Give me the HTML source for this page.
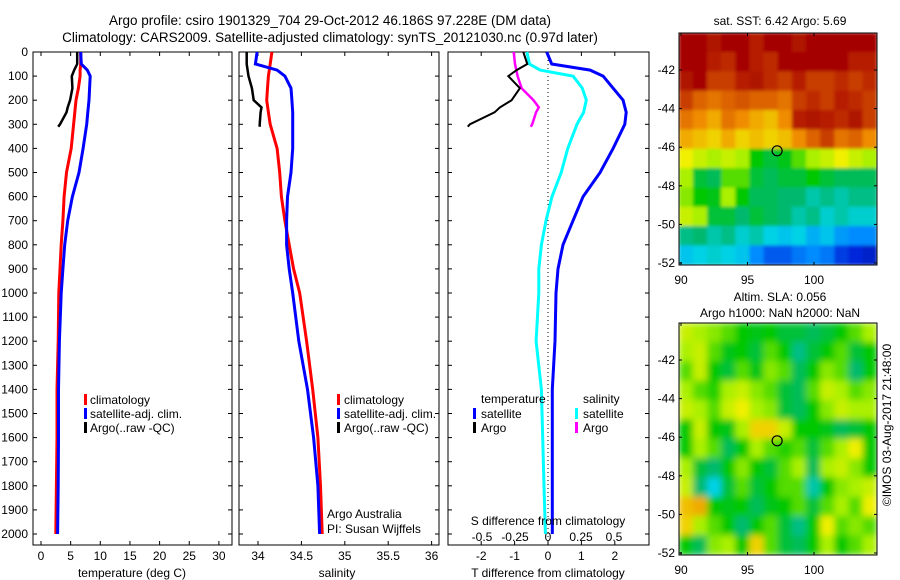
<!DOCTYPE html>
<html><head><meta charset="utf-8"><style>
body{margin:0;background:#fff;}
svg{display:block;font-family:"Liberation Sans",sans-serif;}
text{fill:#000;}
</style></head><body>
<svg id="c" width="900" height="580" viewBox="0 0 900 580">
<text x="330" y="25" font-size="13.5" text-anchor="middle">Argo profile: csiro 1901329_704 29-Oct-2012 46.186S 97.228E (DM data)</text>
<text x="330" y="42" font-size="13.5" text-anchor="middle">Climatology: CARS2009. Satellite-adjusted climatology: synTS_20121030.nc (0.97d later)</text>
</svg>
<script>
// ---- data ----
const depths=[0,50,75,100,150,200,250,300,400,500,600,700,800,900,1000,1200,1400,1600,1800,2000];
const tempClim=[6.7,6.7,6.6,6.6,6.3,5.9,5.7,5.5,5.1,4.3,3.9,3.7,3.4,3.2,3.0,2.9,2.7,2.7,2.6,2.5];
const tempSat=[6.7,6.8,7.8,8.3,8.2,8.1,7.9,7.7,7.1,6.4,5.3,4.5,4.0,3.7,3.4,3.1,2.95,2.95,2.9,2.8];
const argoDepths=[0,50,75,100,150,200,230,250,300,310];
const tempArgo=[6.1,6.1,5.6,5.2,5.3,4.9,4.5,4.3,3.2,2.9];
const salClim=[34.16,34.14,34.13,34.12,34.11,34.10,34.12,34.14,34.22,34.25,34.27,34.31,34.36,34.41,34.48,34.56,34.63,34.69,34.72,34.74];
const salSat=[33.99,33.97,34.22,34.31,34.38,34.39,34.40,34.40,34.40,34.38,34.34,34.33,34.33,34.36,34.40,34.47,34.57,34.64,34.69,34.71];
const salArgo=[33.87,33.87,33.88,33.89,33.93,33.95,34.04,34.03,34.02,34.02];
const tDiffSat=[-0.04,0.11,1.26,1.65,1.95,2.25,2.34,2.3,1.95,1.56,1.05,0.75,0.45,0.3,0.24,0.21,0.13,0.13,0.13,0.13];
const sDiffSat=[-0.16,-0.14,-0.06,0.19,0.26,0.29,0.27,0.22,0.15,0.10,0.03,-0.015,-0.05,-0.07,-0.07,-0.09,-0.05,-0.04,-0.03,-0.02];
const tDiffArgo=[-0.74,-0.62,-0.94,-1.19,-0.84,-1.09,-1.44,-1.6,-2.34,-2.4];
const sDiffArgo=[-0.26,-0.25,-0.24,-0.23,-0.2,-0.11,-0.07,-0.09,-0.12,-0.13];
const depthTicks=[0,100,200,300,400,500,600,700,800,900,1000,1100,1200,1300,1400,1500,1600,1700,1800,1900,2000];
const tempTicks=[0,5,10,15,20,25,30];
const salTicks=[34,34.5,35,35.5,36];
const tdTicks=[-2,-1,0,1,2];
const sdTicks=[-0.5,-0.25,0,0.25,0.5];
const sdTickLabels=["-0.5","-0.25","0","0.25","0.5"];
const latTicks=[-42,-44,-46,-48,-50,-52];
const lonTicks=[90,95,100];
const argoLon=97.228, argoLat=-46.186;
const sstGrid=[
[.95,.95,.92,.95,.95,.9,.95,.95,.92,.95,.95,.95,.95,.95],
[.95,.95,.9,.88,.95,.9,.88,.95,.95,.95,.95,.95,.9,.9],
[.92,.95,.85,.85,.9,.92,.88,.85,.9,.85,.85,.88,.85,.88],
[.85,.8,.78,.8,.82,.8,.8,.78,.85,.88,.85,.9,.88,.85],
[.78,.75,.72,.78,.75,.72,.7,.75,.9,.92,.9,.88,.92,.85],
[.72,.7,.68,.72,.68,.7,.68,.7,.75,.8,.85,.78,.8,.75],
[.65,.62,.6,.62,.6,.5,.45,.48,.55,.6,.62,.65,.62,.6],
[.6,.45,.42,.55,.55,.45,.42,.45,.45,.5,.45,.42,.42,.42],
[.58,.5,.48,.6,.5,.42,.42,.4,.4,.35,.38,.35,.38,.38],
[.62,.6,.45,.45,.4,.45,.42,.4,.35,.38,.32,.35,.32,.32],
[.38,.4,.35,.38,.32,.35,.3,.28,.3,.25,.28,.22,.2,.2],
[.28,.3,.32,.3,.28,.2,.15,.15,.18,.2,.18,.12,.1,.08]];
const slaGrid=[
[.62,.6,.58,.55,.5,.48,.5,.45,.45,.42,.45,.5,.55,.6],
[.6,.62,.55,.48,.5,.45,.55,.5,.38,.45,.5,.55,.45,.5],
[.55,.62,.5,.45,.55,.48,.58,.55,.42,.5,.58,.55,.4,.5],
[.6,.55,.52,.6,.62,.58,.55,.45,.42,.55,.62,.6,.55,.58],
[.62,.6,.55,.62,.65,.6,.58,.45,.42,.5,.58,.62,.6,.6],
[.5,.62,.5,.48,.6,.68,.68,.62,.5,.5,.48,.42,.45,.5],
[.5,.6,.55,.42,.5,.6,.55,.52,.55,.45,.55,.6,.65,.5],
[.6,.45,.4,.5,.58,.5,.45,.55,.6,.42,.6,.62,.58,.5],
[.62,.4,.3,.45,.55,.45,.5,.55,.55,.35,.5,.58,.6,.62],
[.7,.72,.5,.48,.5,.42,.48,.5,.55,.45,.55,.6,.55,.65],
[.68,.6,.55,.5,.4,.5,.55,.45,.38,.5,.65,.55,.58,.55],
[.5,.42,.58,.6,.5,.68,.55,.45,.42,.5,.6,.5,.55,.6]];

// ---- helpers ----
const svg=document.getElementById('c');
const NS='http://www.w3.org/2000/svg';
function mk(tag,attrs,parent){const e=document.createElementNS(NS,tag);for(const k in attrs)e.setAttribute(k,attrs[k]);(parent||svg).appendChild(e);return e;}
const TOP=52,BOT=545;
const yD=d=>52+d*0.241;
const xT=t=>41+t*5.93;
const xS=s=>258+(s-34)*86.8;
const xTD=v=>548+v*33.4;
const xSD=v=>548+v*132;
function panel(x0,x1,name){
  const r=mk('rect',{x:x0,y:TOP,width:x1-x0,height:BOT-TOP,fill:'none',stroke:'#000','stroke-width':1});
  
  
  depthTicks.forEach(d=>{mk('line',{x1:x0,x2:x0+4,y1:yD(d),y2:yD(d),stroke:'#000'});mk('line',{x1:x1,x2:x1-4,y1:yD(d),y2:yD(d),stroke:'#000'});});
}
function xticks(vals,fx,labels,y,name){
  vals.forEach((v,i)=>{const x=fx(v);mk('line',{x1:x,x2:x,y1:TOP,y2:TOP+4,stroke:'#000'});mk('line',{x1:x,x2:x,y1:BOT,y2:BOT-4,stroke:'#000'});
    const t=mk('text',{x:x,y:y,'font-size':12,'text-anchor':'middle'});t.textContent=labels[i];
    
    });
}
function line(xs,ds,fx,color,name,w){
  const pts=xs.map((v,i)=>fx(v).toFixed(1)+','+yD(ds[i]).toFixed(1)).join(' ');
  const p=mk('polyline',{points:pts,fill:'none',stroke:color,'stroke-width':w||3});
  
  
}
function txt(x,y,s,name,size,anchor){const t=mk('text',{x:x,y:y,'font-size':size||12,'text-anchor':anchor||'start'});t.textContent=s;
  
  return t;}
function legBar(x,y,color,name){const r=mk('rect',{x:x,y:y-10,width:3,height:11,fill:color});
  
  }

// depth labels
depthTicks.forEach(d=>{const t=mk('text',{x:28,y:yD(d)+4,'font-size':12,'text-anchor':'end'});t.textContent=d;
  
  });

// panel 1 temperature
panel(33,232,'temperature-panel');
xticks(tempTicks,xT,tempTicks.map(String),560,'temperature-tick-label');
line(tempClim,depths,xT,'#f00','temperature-climatology-line');
line(tempSat,depths,xT,'#00f','temperature-satellite-line');
line(tempArgo,argoDepths,xT,'#000','temperature-argo-line',2.5);
txt(132,577,'temperature (deg C)','temperature-axis-title',12,'middle');
legBar(84,404,'#f00','legend-climatology-swatch');txt(90,404,'climatology','legend-climatology');
legBar(84,418,'#00f','legend-satellite-swatch');txt(90,418,'satellite-adj. clim.','legend-satellite');
legBar(84,432,'#000','legend-argo-swatch');txt(90,432,'Argo(..raw -QC)','legend-argo');

// panel 2 salinity
panel(239,439,'salinity-panel');
xticks(salTicks,xS,salTicks.map(String),560,'salinity-tick-label');
line(salClim,depths,xS,'#f00','salinity-climatology-line');
line(salSat,depths,xS,'#00f','salinity-satellite-line');
line(salArgo,argoDepths,xS,'#000','salinity-argo-line',2.5);
txt(337,577,'salinity','salinity-axis-title',12,'middle');
legBar(337,404,'#f00','legend2-climatology-swatch');txt(344,404,'climatology','legend2-climatology');
legBar(337,418,'#00f','legend2-satellite-swatch');txt(344,418,'satellite-adj. clim.','legend2-satellite');
legBar(337,432,'#000','legend2-argo-swatch');txt(344,432,'Argo(..raw -QC)','legend2-argo');
txt(327,518,'Argo Australia','credit-argo-australia');
txt(327,533,'PI: Susan Wijffels','credit-pi');

// panel 3 differences
panel(448,649,'difference-panel');
xticks(tdTicks,xTD,tdTicks.map(String),560,'t-diff-tick-label');
sdTicks.forEach((v,i)=>{const t=mk('text',{x:xSD(v),y:541,'font-size':12,'text-anchor':'middle'});t.textContent=sdTickLabels[i];
  
  });
mk('line',{x1:548,x2:548,y1:TOP,y2:BOT,stroke:'#000','stroke-dasharray':'1,3'});
line(sDiffSat,depths,xSD,'#0ff','s-diff-satellite-line');
line(tDiffSat,depths,xTD,'#00f','t-diff-satellite-line');
line(sDiffArgo,argoDepths,xSD,'#f0f','s-diff-argo-line',2.5);
line(tDiffArgo,argoDepths,xTD,'#000','t-diff-argo-line',2);
txt(548,525,'S difference from climatology','s-diff-axis-title',12,'middle');
txt(548,577,'T difference from climatology','t-diff-axis-title',12,'middle');
txt(481,403,'temperature','legend3-temperature-header');
txt(583,403,'salinity','legend3-salinity-header');
legBar(473,418,'#00f','legend3-temp-satellite-swatch');txt(481,418,'satellite','legend3-temp-satellite');
legBar(473,432,'#000','legend3-temp-argo-swatch');txt(481,432,'Argo','legend3-temp-argo');
legBar(575,418,'#0ff','legend3-sal-satellite-swatch');txt(583,418,'satellite','legend3-sal-satellite');
legBar(575,432,'#f0f','legend3-sal-argo-swatch');txt(583,432,'Argo','legend3-sal-argo');

// maps
const cmapStops=[[0,0,0,130],[.1,0,40,220],[.2,0,140,255],[.3,0,210,230],[.4,0,185,110],[.5,0,200,0],[.6,170,240,0],[.65,240,240,0],[.75,240,140,0],[.85,200,60,0],[.95,165,0,0],[1,150,0,0]];
function cmap(v){
  for(let i=1;i<cmapStops.length;i++){const a=cmapStops[i-1],b=cmapStops[i];
    if(v<=b[0]){const f=(v-a[0])/(b[0]-a[0]);return `rgb(${Math.round(a[1]+f*(b[1]-a[1]))},${Math.round(a[2]+f*(b[2]-a[2]))},${Math.round(a[3]+f*(b[3]-a[3]))})`;}}
  return 'rgb(150,0,0)';
}
const MX0=679,MX1=877;
const lonX=l=>681+(l-90)*13.3;
mk('defs',{}).innerHTML='<filter id="bl" x="0" y="0" width="1" height="1"><feGaussianBlur stdDeviation="3.5" edgeMode="duplicate"/></filter><filter id="bl2" x="0" y="0" width="1" height="1"><feGaussianBlur stdDeviation="1.5" edgeMode="duplicate"/></filter><clipPath id="cp1"><rect x="679" y="33" width="198" height="232"/></clipPath><clipPath id="cp2"><rect x="679" y="323" width="198" height="232"/></clipPath>';
function map(grid,y0,y1,name,filt,clip){
  const latY=l=>y0+37+(-42-l)*19.3*(y1-y0)/232;
  const g=mk('g',{'clip-path':`url(#${clip})`});
  const gi=mk('g',{filter:`url(#${filt})`},g);
  
  
  const cw=(MX1-MX0)/grid[0].length,ch=(y1-y0)/grid.length;
  grid.forEach((row,r)=>row.forEach((v,c)=>{mk('rect',{x:MX0+c*cw-0.3,y:y0+r*ch-0.3,width:cw+0.6,height:ch+0.6,fill:cmap(v)},gi);}));
  const fr=mk('rect',{x:MX0,y:y0,width:MX1-MX0,height:y1-y0,fill:'none',stroke:'#000'});
  
  
  latTicks.forEach(l=>{const y=latY(l);mk('line',{x1:MX0,x2:MX0+3,y1:y,y2:y,stroke:'#000'});mk('line',{x1:MX1,x2:MX1-3,y1:y,y2:y,stroke:'#000'});
    txt(675,y+4,String(l),name+'-lat-label',12,'end');});
  lonTicks.forEach(l=>{const x=lonX(l);mk('line',{x1:x,x2:x,y1:y1,y2:y1-3,stroke:'#000'});mk('line',{x1:x,x2:x,y1:y0,y2:y0+3,stroke:'#000'});
    txt(x,y1+19,String(l),name+'-lon-label',12,'middle');});
  const m=mk('circle',{cx:lonX(argoLon),cy:latY(argoLat),r:5,fill:'none',stroke:'#000','stroke-width':1.2});
  
  
}
map(sstGrid,33,265,'sst-map','bl2','cp1');
map(slaGrid,323,555,'sla-map','bl','cp2');
txt(780,25,'sat. SST: 6.42 Argo: 5.69','sst-map-title',12,'middle');
txt(780,301,'Altim. SLA: 0.056','sla-map-title',12,'middle');
txt(780,317,'Argo h1000: NaN h2000: NaN','sla-map-subtitle',12,'middle');
const cr=txt(0,0,'\u00a9IMOS 03-Aug-2017 21:48:00','imos-timestamp',12,'middle');
cr.setAttribute('transform','translate(891,425) rotate(-90)');
</script>
</body></html>
